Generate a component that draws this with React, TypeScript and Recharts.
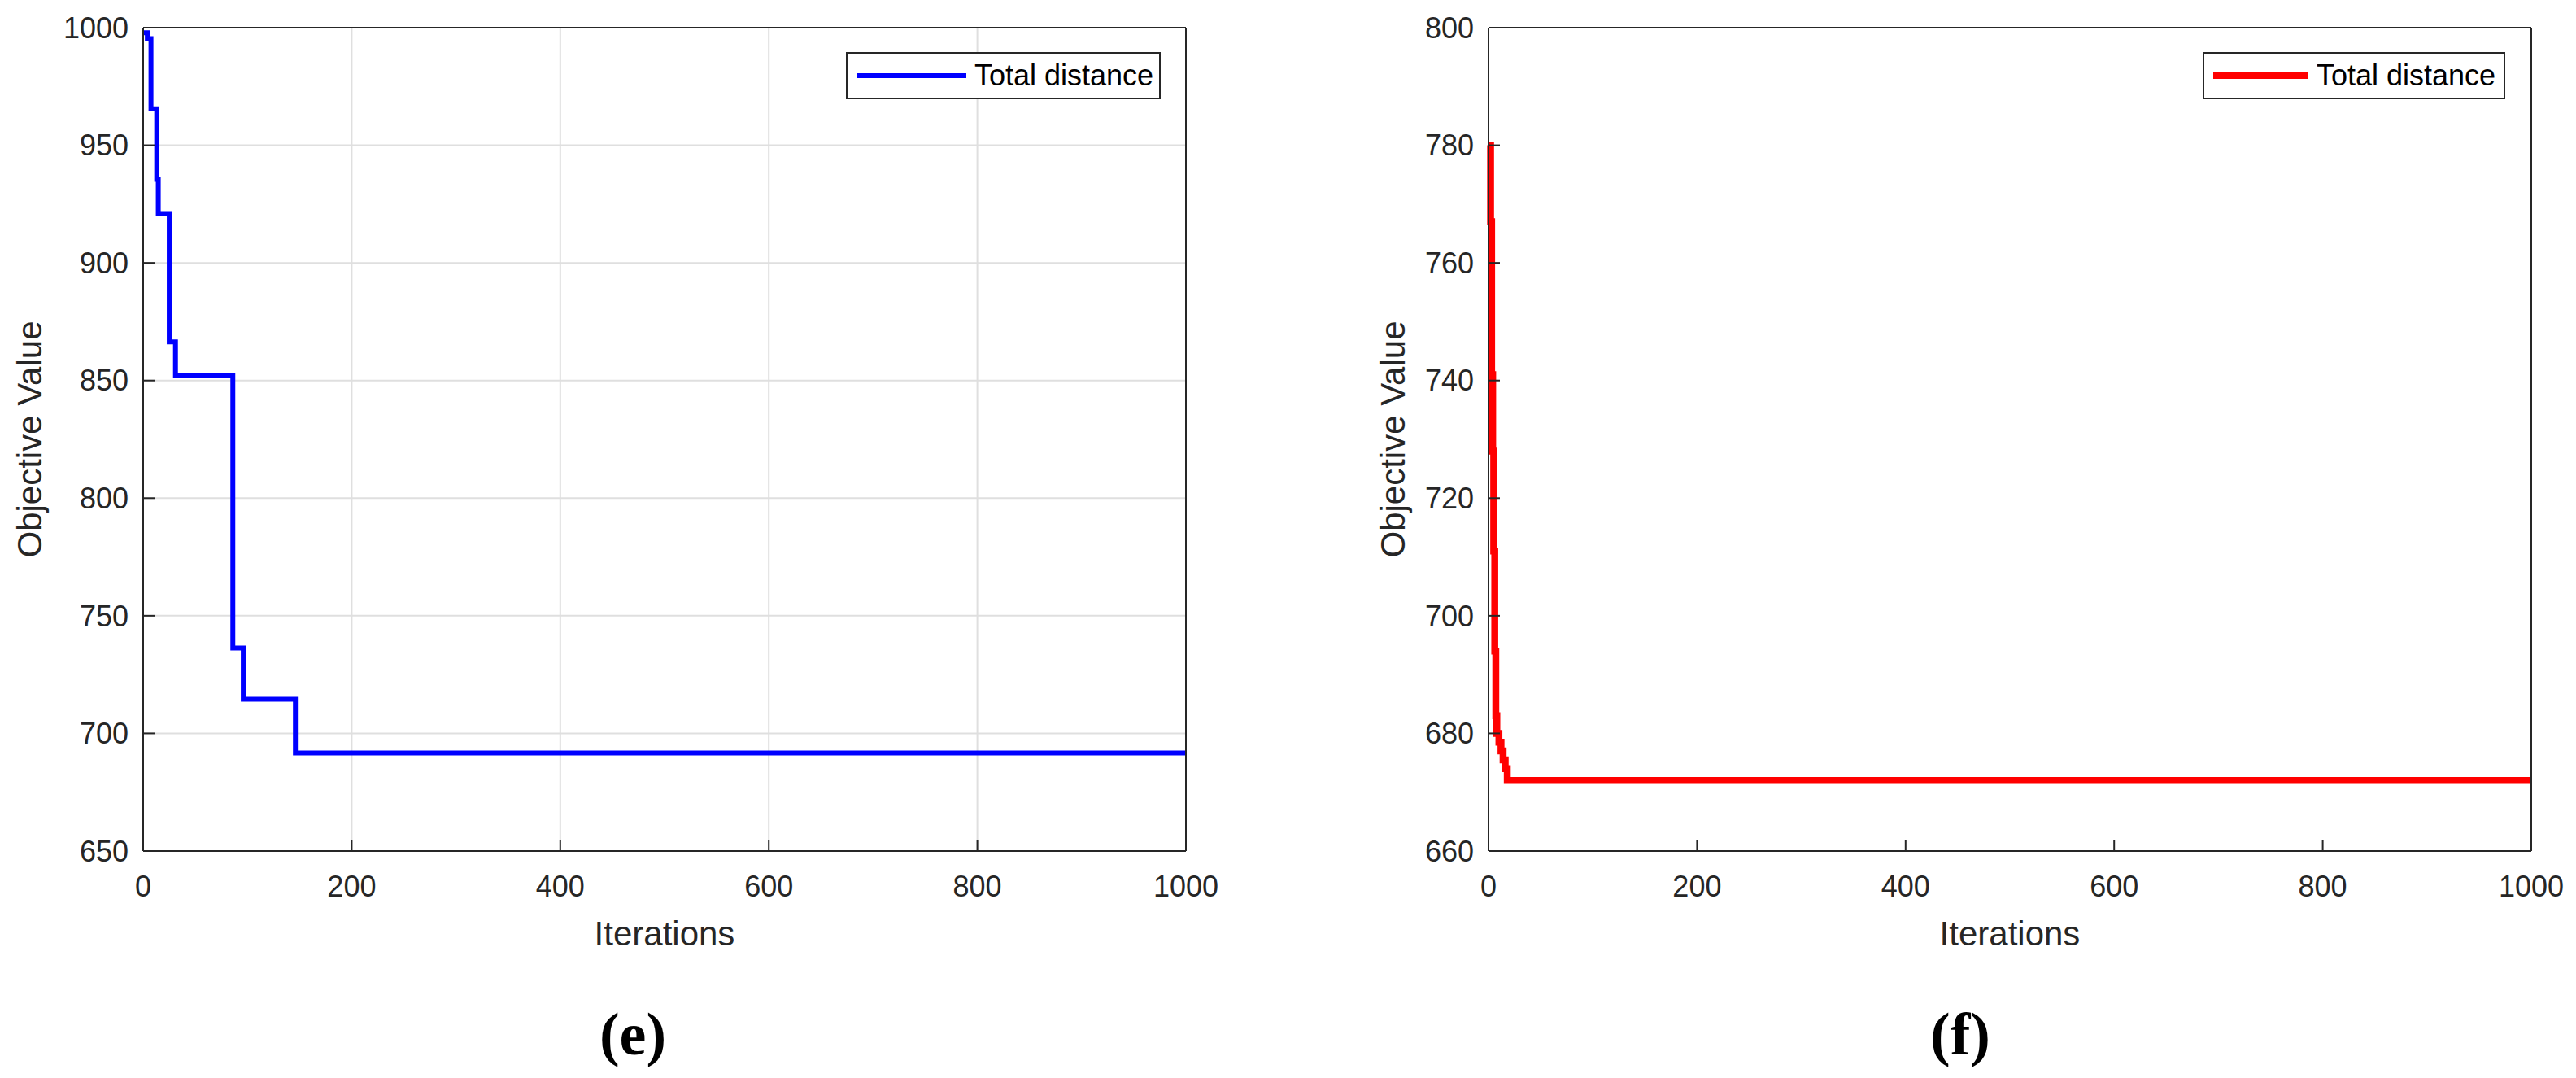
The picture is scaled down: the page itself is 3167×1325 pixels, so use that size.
import React from 'react';
import { LineChart, Line, XAxis, YAxis, CartesianGrid, Legend } from 'recharts';

// iteration axis shared by both panels
const iterTicks = [0, 200, 400, 600, 800, 1000];

// (e) blue run, step changes
const blueIter = [0, 4, 7.5, 13, 14.5, 25, 31, 86, 96, 146, 1000];
const blueValue = [997.8, 995.3, 965.5, 935.5, 921, 866.4, 852, 736.3, 714.5, 691.7, 691.7];
const blueTicks = [650, 700, 750, 800, 850, 900, 950, 1000];

// (f) red run
const redIter = [0, 1, 2, 3, 4, 5, 6, 7, 8, 10, 12, 14, 16, 18, 1000];
const redValue = [780, 780, 767, 741, 728, 711, 694, 683, 680, 678.5, 677, 675.5, 674, 672, 672];
const redTicks = [660, 680, 700, 720, 740, 760, 780, 800];

const seriesName = 'Total distance';

const FONT = '"Liberation Sans", Arial, Helvetica, sans-serif';
const INK = '#262626';

const toRows = (xs: number[], ys: number[]) => xs.map((x, i) => ({ iter: x, value: ys[i] }));

const LegendBox = ({ payload, boxWidth, sample, thick, pad }: any) => {
  const item = payload && payload[0];
  if (!item) return null;
  return (
    <div
      style={{
        boxSizing: 'border-box',
        width: boxWidth,
        height: 58,
        border: `2px solid ${INK}`,
        background: '#fff',
        display: 'flex',
        alignItems: 'center',
        paddingLeft: pad,
        fontFamily: FONT,
        fontSize: 36,
        color: '#000',
        whiteSpace: 'nowrap',
      }}
    >
      <div style={{ width: sample, height: thick, background: item.color, marginRight: 10 }} />
      <span>{item.value}</span>
    </div>
  );
};

const Panel = (p: any) => {
  const rows = toRows(p.xs, p.ys);
  const tickStyle = { fontSize: 36, fill: INK, fontFamily: FONT };
  const axisStroke = { stroke: INK, strokeWidth: 2 };
  return (
    <div style={{ position: 'absolute', left: p.left, top: 0, fontFamily: FONT }}>
      <LineChart
        width={p.width}
        height={1325}
        data={rows}
        margin={{ top: 33, right: p.right - 1, bottom: 149, left: 0 }}
      >
        {p.grid && <CartesianGrid stroke="#dfdfdf" strokeWidth={2} />}
        <XAxis
          dataKey="iter"
          type="number"
          domain={[0, 1000]}
          ticks={iterTicks}
          interval={0}
          height={130}
          tickSize={-14}
          tickMargin={44}
          axisLine={axisStroke}
          tickLine={axisStroke}
          tick={tickStyle}
          label={{ value: 'Iterations', position: 'insideBottom', offset: 14, fontSize: 42, fill: INK, fontFamily: FONT }}
        />
        <XAxis
          xAxisId="top"
          orientation="top"
          dataKey="iter"
          type="number"
          domain={[0, 1000]}
          allowDataOverflow
          ticks={iterTicks}
          interval={0}
          height={1}
          tickSize={-14}
          axisLine={axisStroke}
          tickLine={axisStroke}
          tick={false}
        />
        <YAxis
          type="number"
          domain={p.domain}
          ticks={p.ticks}
          interval={0}
          width={p.axisWidth}
          tickSize={-14}
          tickMargin={32}
          axisLine={axisStroke}
          tickLine={axisStroke}
          tick={tickStyle}
          label={(lp: any) => {
            const vb = lp && lp.viewBox ? lp.viewBox : { x: 0, y: 34, width: p.axisWidth, height: 1012 };
            const cx = vb.x + p.titleX;
            const cy = vb.y + vb.height / 2;
            return (
              <text
                x={cx}
                y={cy}
                transform={`rotate(-90 ${cx} ${cy})`}
                textAnchor="middle"
                dominantBaseline="central"
                fontSize={42}
                fill={INK}
                fontFamily={FONT}
              >
                Objective Value
              </text>
            );
          }}
        />
        <YAxis
          yAxisId="right"
          orientation="right"
          type="number"
          domain={p.domain}
          allowDataOverflow
          ticks={p.ticks}
          interval={0}
          width={1}
          tickSize={-14}
          axisLine={axisStroke}
          tickLine={axisStroke}
          tick={false}
        />
        <Legend
          layout="vertical"
          align="center"
          verticalAlign="middle"
          wrapperStyle={{ left: p.legendLeft, top: 64, width: p.legendWidth, height: 58 }}
          content={(lp: any) => (
            <LegendBox {...lp} boxWidth={p.legendWidth} sample={p.sample} thick={p.legendThick} pad={p.legendPad} />
          )}
        />
        <Line
          type="stepAfter"
          dataKey="value"
          name={seriesName}
          stroke={p.color}
          strokeWidth={p.strokeWidth}
          dot={false}
          isAnimationActive={false}
        />
      </LineChart>
      <div
        style={{
          position: 'absolute',
          left: p.captionX - 100,
          top: 1234,
          width: 200,
          textAlign: 'center',
          fontFamily: '"Liberation Serif", "Times New Roman", serif',
          fontWeight: 'bold',
          fontSize: 74,
          lineHeight: '74px',
          color: '#000',
        }}
      >
        {p.caption}
      </div>
    </div>
  );
};

export default function App() {
  return (
    <div style={{ position: 'absolute', left: 0, top: 0, width: 3167, height: 1325, background: '#fff', overflow: 'hidden' }}>
      <Panel
        left={0}
        width={1600}
        axisWidth={176}
        right={142}
        xs={blueIter}
        ys={blueValue}
        domain={[650, 1000]}
        ticks={blueTicks}
        color="#0000ff"
        strokeWidth={6}
        grid
        titleX={36}
        legendLeft={1040}
        legendWidth={387}
        sample={134}
        legendThick={6}
        legendPad={12}
        caption="(e)"
        captionX={778}
      />
      <Panel
        left={1600}
        width={1567}
        axisWidth={230}
        right={55}
        xs={redIter}
        ys={redValue}
        domain={[660, 800]}
        ticks={redTicks}
        color="#ff0000"
        strokeWidth={8.5}
        grid={false}
        titleX={112}
        legendLeft={1108}
        legendWidth={372}
        sample={117}
        legendThick={8}
        legendPad={11}
        caption="(f)"
        captionX={810}
      />
    </div>
  );
}
